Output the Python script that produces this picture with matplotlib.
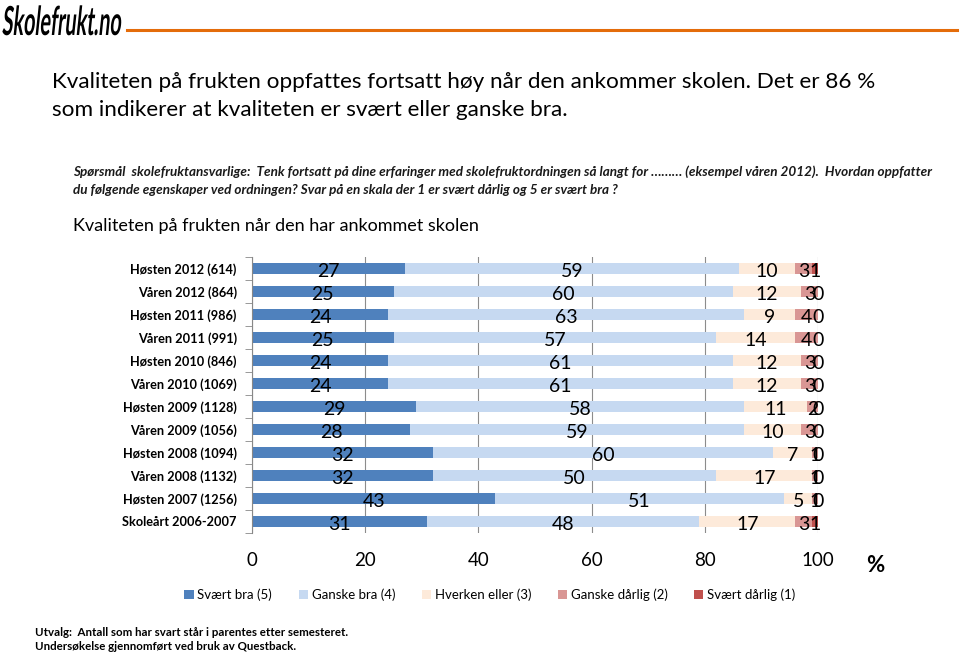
import matplotlib
matplotlib.use("Agg")
import matplotlib.pyplot as plt
from matplotlib.patches import Patch, PathPatch
from matplotlib.textpath import TextPath
from matplotlib.font_manager import FontProperties
from matplotlib.transforms import Affine2D
import numpy as np

categories = ["Høsten 2012 (614)", "Våren 2012 (864)", "Høsten 2011 (986)", "Våren 2011 (991)",
              "Høsten 2010 (846)", "Våren 2010 (1069)", "Høsten 2009 (1128)", "Våren 2009 (1056)",
              "Høsten 2008 (1094)", "Våren 2008 (1132)", "Høsten 2007 (1256)", "Skoleårt 2006-2007"]
svaert_bra = [27, 25, 24, 25, 24, 24, 29, 28, 32, 32, 43, 31]
ganske_bra = [59, 60, 63, 57, 61, 61, 58, 59, 60, 50, 51, 48]
hverken = [10, 12, 9, 14, 12, 12, 11, 10, 7, 17, 5, 17]
ganske_darlig = [3, 3, 4, 4, 3, 3, 2, 3, 1, 1, 1, 3]
svaert_darlig = [1, 0, 0, 0, 0, 0, 0, 0, 0, 0, 0, 1]
series_names = ["Svært bra (5)", "Ganske bra (4)", "Hverken eller (3)", "Ganske dårlig (2)", "Svært dårlig (1)"]
colors = ["#4F81BD", "#C6D9F1", "#FDEADA", "#D99694", "#C0504D"]
xticks = [0, 20, 40, 60, 80, 100]

FONT = "Lato"
W, H = 960, 657
fig = plt.figure(figsize=(W / 100, H / 100), dpi=100)

def fx(px):
    return px / W

def fy(py):
    return 1 - py / H

# Logo (condensed bold text drawn as a path in pixel coordinates)
tp = TextPath((0, 0), "Skolefrukt.no", size=40,
              prop=FontProperties(family=FONT, weight="bold"))
bb = tp.get_extents()
sx = 118 / bb.width
tr = Affine2D().translate(-bb.x0, 0).scale(sx, 1.0).skew_deg(6, 0).translate(2, H - 35)
logo = PathPatch(tr.transform_path(tp), facecolor="black", edgecolor="none",
                 transform=None)
fig.add_artist(logo)
fig.add_artist(plt.Line2D([fx(127), fx(957)], [fy(30), fy(30)], color="#E46C0A", lw=2.2))

# Heading
fig.text(fx(52), fy(82), "Kvaliteten på frukten oppfattes fortsatt høy når den ankommer skolen. Det er 86 %",
         fontsize=16.2, family=FONT, va="center", ha="left")
fig.text(fx(52), fy(110), "som indikerer at kvaliteten er svært eller ganske bra.",
         fontsize=16.2, family=FONT, va="center", ha="left")

# Question
qkw = dict(fontsize=9.7, family=FONT, fontstyle="italic", fontweight="bold", va="center",
           ha="left", color="#1a1a1a")
fig.text(fx(73), fy(172), "Spørsmål  skolefruktansvarlige:  Tenk fortsatt på dine erfaringer med skolefruktordningen så langt for ……… (eksempel våren 2012).  Hvordan oppfatter", **qkw)
fig.text(fx(73), fy(190), "du følgende egenskaper ved ordningen? Svar på en skala der 1 er svært dårlig og 5 er svært bra ?", **qkw)

fig.text(fx(73), fy(226), "Kvaliteten på frukten når den har ankommet skolen",
         fontsize=13, family=FONT, va="center", ha="left")

# Chart axes
ax = fig.add_axes([fx(252), fy(533), fx(818) - fx(252), (533 - 257) / H])
data = [svaert_bra, ganske_bra, hverken, ganske_darlig, svaert_darlig]
y = np.arange(len(categories))
left = np.zeros(len(categories))
handles = []
for vals, col, name in zip(data, colors, series_names):
    vals = np.array(vals, dtype=float)
    ax.barh(y, vals, left=left, height=0.48, color=col, zorder=2)
    for yi, (l, v) in enumerate(zip(left, vals)):
        ax.text(l + v / 2, yi + 0.14, f"{int(v)}", ha="center", va="center", fontsize=14,
                family=FONT, color="black", zorder=4)
    left += vals
    handles.append(Patch(facecolor=col, edgecolor="none", label=name))

ax.set_xlim(0, 100)
ax.set_ylim(len(categories) - 0.5, -0.5)
ax.set_xticks(xticks)
ax.set_xticklabels([str(t) for t in xticks], fontsize=13.5, family=FONT)
ax.tick_params(axis="x", length=0, pad=14)
ax.set_yticks(y)
ax.set_yticklabels(categories, fontsize=9.2, family=FONT, fontweight="bold")
ax.set_yticks(np.arange(-0.5, len(categories), 1), minor=True)
ax.tick_params(axis="y", which="major", length=0, pad=11)
ax.tick_params(axis="y", which="minor", length=5, color="#888888", direction="out")
ax.grid(axis="x", color="#8c8c8c", lw=0.8, zorder=0)
for s in ["top", "right", "bottom"]:
    ax.spines[s].set_visible(False)
ax.spines["left"].set_color("#888888")

fig.text(fx(875), fy(565), "%", fontsize=16, fontweight="bold", family=FONT, va="center", ha="center")

fig.legend(handles=handles, loc="center", bbox_to_anchor=(fx(490), fy(595)), ncol=5, frameon=False,
           prop={"family": FONT, "size": 9.5}, handlelength=0.7, handleheight=0.7, handletextpad=0.3,
           columnspacing=2.0)

fig.text(fx(35), fy(632), "Utvalg:  Antall som har svart står i parentes etter semesteret.",
         fontsize=8.3, fontweight="bold", family=FONT, va="center", ha="left")
fig.text(fx(35), fy(647), "Undersøkelse gjennomført ved bruk av Questback.",
         fontsize=8.3, fontweight="bold", family=FONT, va="center", ha="left")

fig.savefig("out.png", dpi=100)
